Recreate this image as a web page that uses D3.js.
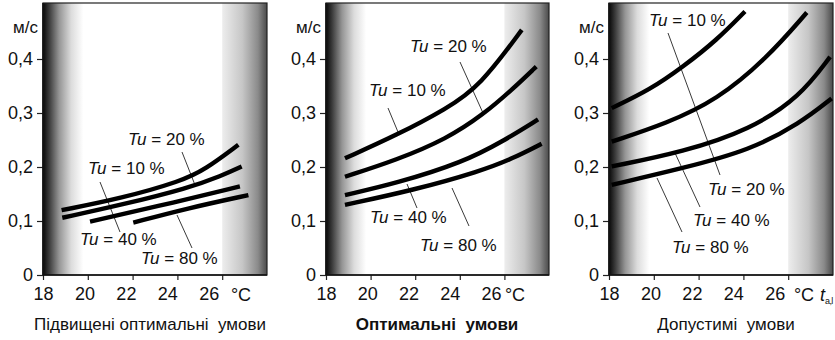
<!DOCTYPE html>
<html>
<head>
<meta charset="utf-8">
<script src="https://cdn.jsdelivr.net/npm/d3@7"></script>
<style>
  body { margin: 0; background: #fff; }
  svg { display: block; font-family: "Liberation Sans", Arial, sans-serif; }
  text { white-space: pre; }
</style>
</head>
<body>
<svg id="chart" width="835" height="340"></svg>
<script>
// values: [temperature °C, velocity m/s]
const xTicks = [18, 20, 22, 24, 26];
const yTicks = [0, 0.1, 0.2, 0.3, 0.4];
const tuNames = ["10", "20", "40", "80"];

const raisedTu10 = [[18.83, 0.120], [21.51, 0.142], [24.19, 0.174], [25.23, 0.195], [26.72, 0.241]];
const raisedTu20 = [[18.86, 0.106], [21.51, 0.130], [24.49, 0.161], [25.98, 0.184], [26.87, 0.201]];
const raisedTu40 = [[20.10, 0.099], [23.00, 0.126], [26.79, 0.164]];
const raisedTu80 = [[22.03, 0.097], [24.49, 0.124], [27.17, 0.148]];

const optimalTu10 = [[18.85, 0.216], [21.17, 0.259], [23.41, 0.308], [24.91, 0.350], [26.78, 0.454]];
const optimalTu20 = [[18.85, 0.182], [21.17, 0.213], [23.41, 0.252], [25.05, 0.297], [26.39, 0.345], [27.43, 0.386]];
const optimalTu40 = [[18.85, 0.148], [21.17, 0.170], [24.16, 0.209], [25.95, 0.248], [27.51, 0.288]];
const optimalTu80 = [[18.85, 0.130], [21.91, 0.157], [24.91, 0.192], [26.39, 0.216], [27.67, 0.243]];

const allowedTu10 = [[18.12, 0.309], [19.83, 0.343], [21.32, 0.386], [22.81, 0.435], [24.07, 0.488]];
const allowedTu20 = [[18.12, 0.247], [20.58, 0.281], [22.81, 0.324], [25.04, 0.401], [26.83, 0.486]];
const allowedTu40 = [[18.12, 0.201], [21.32, 0.228], [24.29, 0.269], [26.53, 0.330], [27.87, 0.404]];
const allowedTu80 = [[18.12, 0.167], [21.32, 0.198], [24.29, 0.231], [26.53, 0.281], [27.94, 0.327]];

const captions = ["Підвищені оптимальні  умови", "Оптимальні  умови", "Допустимі  умови"];

// layout of each panel; label = [x, baseline] of the "Tu" text, leader = [x1,y1,x2,y2]
const panels = [
  { x0: 43, w: 224, series: [raisedTu10, raisedTu20, raisedTu40, raisedTu80],
    labels: [[88, 174], [128, 145], [80, 245], [141, 264]],
    leaders: [[100, 182, 120, 232], [182, 152, 195, 185], null, [177, 215, 192, 248]],
    unitX: 241, capX: 150, bold: false },
  { x0: 326, w: 223, series: [optimalTu10, optimalTu20, optimalTu40, optimalTu80],
    labels: [[369, 96], [410, 52], [370, 223], [420, 251]],
    leaders: [[388, 108, 398, 132], [460, 62, 483, 113], [407, 184, 417, 208], [452, 188, 469, 226]],
    unitX: 515, capX: 437, bold: true },
  { x0: 609, w: 224, series: [allowedTu10, allowedTu20, allowedTu40, allowedTu80],
    labels: [[649, 26], [708, 195], [693, 226], [672, 253]],
    leaders: [[668, 33, 720, 175], null, [675, 153, 700, 207], [657, 178, 682, 232]],
    unitX: 804, capX: 726, bold: false }
];

const plotTop = 3, plotBottom = 275;
const svg = d3.select("#chart");
const defs = svg.append("defs");

const leftGrad = defs.append("linearGradient").attr("id", "gl");
[[0, "#080808"], [0.15, "#3a3a3a"], [0.4, "#959595"], [0.7, "#dcdcdc"], [1, "#ffffff"]]
  .forEach(s => leftGrad.append("stop").attr("offset", s[0]).attr("stop-color", s[1]));
const rightGrad = defs.append("linearGradient").attr("id", "gr");
[[0, "#ededed"], [0.45, "#c6c6c6"], [0.8, "#8a8a8a"], [1, "#4a4a4a"]]
  .forEach(s => rightGrad.append("stop").attr("offset", s[0]).attr("stop-color", s[1]));

const fmt = d => d === 0 ? "0" : d3.format(".1f")(d).replace(".", ",");

panels.forEach((p, i) => {
  const x = d3.scaleLinear().domain([18, 28]).range([p.x0, p.x0 + p.w]);
  const y = d3.scaleLinear().domain([0, 0.5]).range([plotBottom, 5]);
  // tick labels in the original sit a bit left of their ticks
  const xl = d3.scaleLinear().domain([18, 28]).range([p.x0, p.x0 + p.w * 0.925]);
  const g = svg.append("g");

  // shaded bands
  g.append("rect").attr("x", x(18)).attr("y", plotTop)
    .attr("width", x(19.8) - x(18)).attr("height", plotBottom - plotTop).attr("fill", "url(#gl)");
  g.append("rect").attr("x", x(26)).attr("y", plotTop)
    .attr("width", x(28) - x(26)).attr("height", plotBottom - plotTop).attr("fill", "url(#gr)");
  g.append("rect").attr("x", x(18)).attr("y", plotTop)
    .attr("width", x(28) - x(18)).attr("height", plotBottom - plotTop)
    .attr("fill", "none").attr("stroke", "#222").attr("stroke-width", 1.2);

  // leaders
  p.leaders.forEach(l => {
    if (!l) return;
    g.append("line").attr("x1", l[0]).attr("y1", l[1]).attr("x2", l[2]).attr("y2", l[3])
      .attr("stroke", "#3a3a3a").attr("stroke-width", 1);
  });

  // curves
  const line = d3.line().x(d => x(d[0])).y(d => y(d[1])).curve(d3.curveBasis);
  g.selectAll("path.curve").data(p.series).enter().append("path")
    .attr("class", "curve").attr("d", line)
    .attr("fill", "none").attr("stroke", "#000").attr("stroke-width", 4.4);

  // Tu labels
  p.labels.forEach((lb, k) => {
    const t = g.append("text").attr("x", lb[0]).attr("y", lb[1])
      .attr("font-size", 17).attr("fill", "#111");
    t.append("tspan").attr("font-style", "italic").text("Tu");
    t.append("tspan").text(" = " + tuNames[k] + " %");
  });

  // axes
  const ya = g.append("g").attr("transform", "translate(" + p.x0 + ",0)")
    .call(d3.axisLeft(y).tickValues(yTicks).tickFormat(fmt).tickSize(6).tickPadding(4));
  const xa = g.append("g").attr("transform", "translate(0," + plotBottom + ")")
    .call(d3.axisBottom(x).tickValues(xTicks).tickFormat("").tickSize(5));
  const xlab = g.append("g").attr("transform", "translate(0," + plotBottom + ")")
    .call(d3.axisBottom(xl).tickValues(xTicks).tickSize(0).tickPadding(12));
  [ya, xa, xlab].forEach(a => {
    a.select(".domain").remove();
    a.selectAll("line").attr("stroke", "#222").attr("stroke-width", 1.2);
    a.selectAll("text").attr("font-size", 18).attr("fill", "#111")
      .attr("font-family", "Liberation Sans, Arial, sans-serif");
  });
  g.append("line").attr("x1", p.x0).attr("x2", p.x0 + p.w).attr("y1", plotBottom).attr("y2", plotBottom)
    .attr("stroke", "#111").attr("stroke-width", 1.6);
  g.append("line").attr("x1", p.x0).attr("x2", p.x0).attr("y1", plotTop).attr("y2", plotBottom)
    .attr("stroke", "#111").attr("stroke-width", 1.6);

  g.append("text").attr("x", p.x0 - 5).attr("y", 33).attr("text-anchor", "end")
    .attr("font-size", 17).attr("fill", "#111").text("м/с");
  g.append("text").attr("x", p.unitX).attr("y", 301).attr("text-anchor", "middle")
    .attr("font-size", 18).attr("fill", "#111").text("°C");
  if (i === 2) {
    const t = g.append("text").attr("x", 820).attr("y", 301).attr("fill", "#111");
    t.append("tspan").attr("font-style", "italic").attr("font-size", 18).text("t");
    t.append("tspan").attr("font-size", 9).attr("dy", 3).attr("letter-spacing", -0.6).text("a,l");
  }
  g.append("text").attr("x", p.capX).attr("y", 330).attr("text-anchor", "middle")
    .attr("font-size", 17).attr("font-weight", p.bold ? "bold" : "normal")
    .attr("fill", "#111").text(captions[i]);
});
</script>
</body>
</html>
